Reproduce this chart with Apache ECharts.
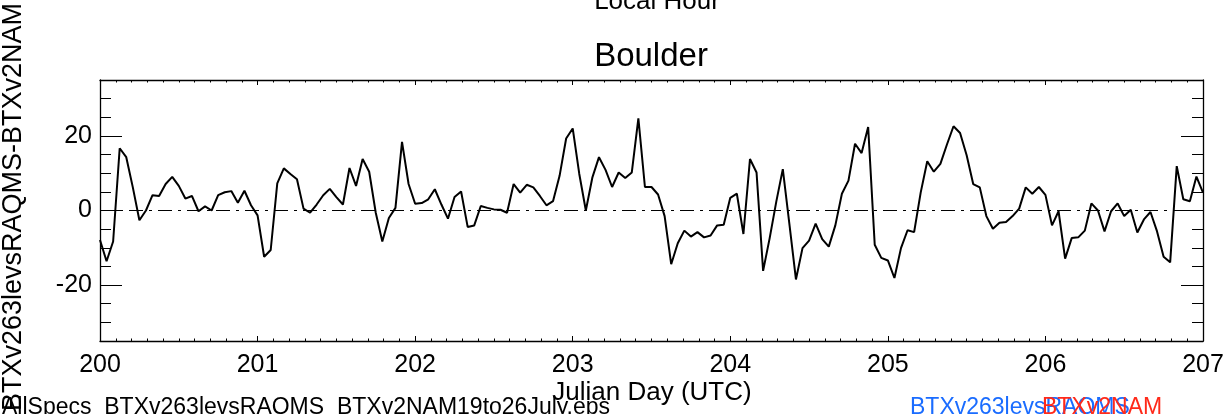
<!DOCTYPE html>
<html>
<head>
<meta charset="utf-8">
<script src="https://cdn.jsdelivr.net/npm/echarts@6/dist/echarts.min.js"></script>
<style>
html,body{margin:0;padding:0;background:#fff;}
#chart{width:1227px;height:414px;}
</style>
</head>
<body>
<div id="chart"></div>
<script>
// Hourly values, Julian day 200.0 to 207.0 (UTC)
const startDay = 200;
const hoursPerDay = 24;
const diffValues = [
  -7.9,-13.6,-8.3,16.7,14.3,6.2,-2.6,0.0,4.1,3.9,7.1,9.0,6.6,3.2,3.9,-0.2,1.1,0.0,4.1,4.9,5.2,2.1,5.3,1.4,
  -1.3,-12.4,-10.6,7.3,11.3,9.8,8.4,0.5,-0.6,1.6,4.1,5.8,3.6,1.6,11.4,6.6,13.8,10.4,-0.6,-8.3,-2.0,0.7,18.4,7.1,
  1.8,2.0,3.0,5.7,1.6,-2.2,3.6,5.1,-4.4,-4.0,1.2,0.7,0.3,0.2,-0.6,7.1,4.8,6.9,6.2,3.9,1.4,2.5,9.3,19.3,
  22.0,9.8,0.0,8.9,14.3,10.9,6.3,10.2,8.7,10.2,24.7,6.3,6.3,4.3,-1.5,-14.4,-8.8,-5.4,-7.0,-5.8,-7.2,-6.7,-4.0,-3.8,
  3.4,4.5,-6.3,13.8,10.2,-16.2,-7.4,2.3,11.1,-3.6,-18.5,-10.1,-8.1,-3.5,-7.7,-9.7,-4.0,4.5,8.0,17.9,15.4,22.4,-9.2,-12.7,
  -13.4,-18.1,-10.1,-5.3,-5.8,4.8,13.2,10.4,12.5,17.7,22.6,20.8,14.8,7.1,6.2,-1.5,-4.9,-3.3,-3.1,-1.5,0.5,6.2,4.5,6.3,
  4.2,-4.0,-0.2,-12.9,-7.4,-7.2,-5.4,1.9,0.0,-5.6,-0.2,1.9,-1.5,0.2,-5.9,-2.4,-0.4,-5.6,-12.4,-13.9,11.9,3.0,2.5,9.1,
  4.8
];
const yMajorTicks = [-20, 0, 20];
const titleText = 'Boulder';
const xTitle = 'Julian Day (UTC)';
const yTitle = 'BTXv263levsRAQMS-BTXv2NAM';
const topTitle = 'Local Hour';
const fileText = 'AllSpecs_BTXv263levsRAQMS_BTXv2NAM19to26July.eps';
const legend1 = 'BTXv263levsRAQMS';
const legend2 = 'BTXv2NAM';

const seriesData = diffValues.map((v, k) => [startDay + k / hoursPerDay, v]);

const FONT = '"Liberation Sans", Arial, Helvetica, sans-serif';
const chart = echarts.init(document.getElementById('chart'), null, {renderer: 'canvas'});

function xAxisBase(pos, showLabel) {
  return {
    type: 'value', position: pos, min: 200, max: 207, interval: 1,
    axisLine: {show: true, onZero: false, lineStyle: {color: '#000', width: 1.3}},
    axisTick: {show: true, inside: true, length: 5, lineStyle: {color: '#000', width: 1}},
    minorTick: {show: true, splitNumber: 10, length: 2.5, lineStyle: {color: '#000', width: 1}},
    splitLine: {show: false},
    axisLabel: {show: showLabel, color: '#000', fontSize: 25, fontFamily: FONT, margin: 12}
  };
}
function yMinor(pos) {
  return {
    type: 'value', position: pos, min: -35, max: 35, interval: 5,
    axisLine: {show: true, onZero: false, lineStyle: {color: '#000', width: 1.3}},
    axisTick: {show: true, inside: true, length: 11, lineStyle: {color: '#000', width: 1}},
    splitLine: {show: false},
    axisLabel: {show: false}
  };
}
function yMajor(pos, showLabel) {
  return {
    type: 'value', position: pos, min: -35, max: 35, interval: 5,
    axisLine: {show: false},
    axisTick: {show: true, inside: true, length: 22, customValues: yMajorTicks, lineStyle: {color: '#000', width: 1}},
    splitLine: {show: false},
    axisLabel: {show: showLabel, customValues: yMajorTicks, color: '#000', fontSize: 25, fontFamily: FONT, margin: 8}
  };
}

chart.setOption({
  animation: false,
  backgroundColor: '#fff',
  grid: {left: 100, right: 24, top: 80, bottom: 73, containLabel: false},
  xAxis: [xAxisBase('bottom', true), xAxisBase('top', false)],
  yAxis: [yMinor('left'), yMajor('left', true), yMinor('right'), yMajor('right', false)],
  series: [{
    type: 'line', xAxisIndex: 0, yAxisIndex: 0,
    data: seriesData, showSymbol: false, symbol: 'none',
    lineStyle: {color: '#000', width: 2}, clip: true,
    markLine: {
      silent: true, symbol: 'none', label: {show: false},
      lineStyle: {color: '#000', width: 1, type: [14, 6, 3, 6]},
      data: [{yAxis: 0}]
    }
  }],
  graphic: [
    {type: 'text', style: {text: topTitle, x: 657, y: 2, textAlign: 'center', textVerticalAlign: 'middle', fontSize: 26, fontFamily: FONT, fill: '#000'}},
    {type: 'text', style: {text: titleText, x: 651, y: 57, textAlign: 'center', textVerticalAlign: 'middle', fontSize: 33, fontFamily: FONT, fill: '#000'}},
    {type: 'text', style: {text: xTitle, x: 652, y: 393, textAlign: 'center', textVerticalAlign: 'middle', fontSize: 26, fontFamily: FONT, fill: '#000'}},
    {type: 'text', x: 14, y: 207, rotation: Math.PI / 2, style: {text: yTitle, x: 0, y: 0, textAlign: 'center', textVerticalAlign: 'middle', fontSize: 27, fontFamily: FONT, fill: '#000'}},
    {type: 'text', style: {text: fileText, x: 2, y: 408, textAlign: 'left', textVerticalAlign: 'middle', fontSize: 23, fontFamily: FONT, fill: '#000'}},
    {type: 'text', style: {text: legend1, x: 910, y: 408, textAlign: 'left', textVerticalAlign: 'middle', fontSize: 23, fontFamily: FONT, fill: '#1a6cff'}},
    {type: 'text', style: {text: legend2, x: 1042, y: 408, textAlign: 'left', textVerticalAlign: 'middle', fontSize: 23, fontFamily: FONT, fill: '#ff2a1a'}}
  ]
});
</script>
</body>
</html>
